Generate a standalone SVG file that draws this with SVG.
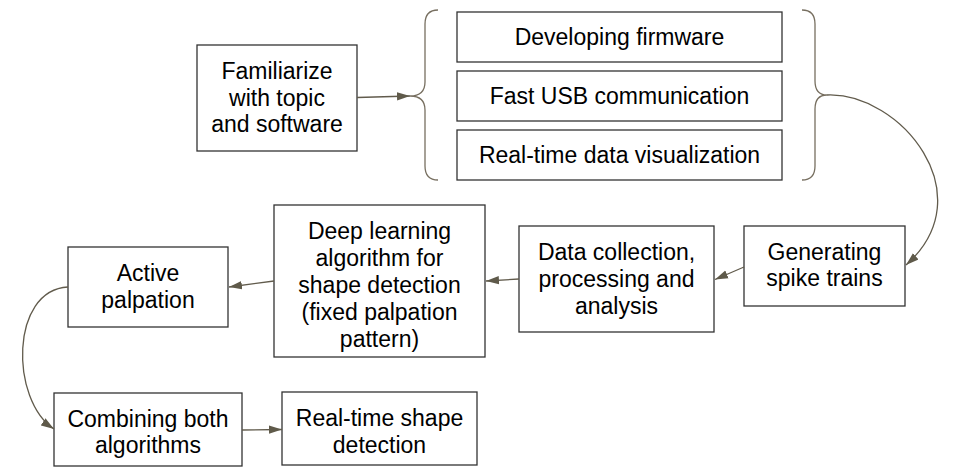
<svg xmlns="http://www.w3.org/2000/svg" width="962" height="475" viewBox="0 0 962 475">
<defs>
<marker id="ah" markerUnits="userSpaceOnUse" markerWidth="14" markerHeight="10" viewBox="0 0 14 10" refX="13" refY="5" orient="auto">
<path d="M0,0.8 L13,5 L0,9.2 Z" fill="#5f5a4a"/>
</marker>
<style>
.box{fill:#fff;stroke:#333;stroke-width:1.3}
.t{font-family:"Liberation Sans",Arial,sans-serif;font-size:23px;fill:#000;text-anchor:middle}
.c{fill:none;stroke:#615b4c;stroke-width:1.3}
.br{fill:none;stroke:#776f60;stroke-width:1.3}
</style>
</defs>
<rect width="962" height="475" fill="#fff"/>
<g id="brace-left"><path class="br" d="M438,10 Q425,10 425,24 L425,82 Q425,96 410,96 Q425,96 425,110 L425,166 Q425,180 438,180"/></g>
<g id="brace-right"><path class="br" d="M802,10 Q815,10 815,24 L815,81 Q815,95 827,95 Q815,95 815,109 L815,166 Q815,180 802,180"/></g>
<g id="familiarize"><rect class="box" x="197" y="45" width="160" height="106"/>
<text class="t" x="277" y="79">Familiarize</text><text class="t" x="277" y="105.5">with topic</text><text class="t" x="277" y="132">and software</text></g>
<g id="firmware"><rect class="box" x="457" y="12" width="325" height="50"/><text class="t" x="619.5" y="45">Developing firmware</text></g>
<g id="usb"><rect class="box" x="457" y="71" width="325" height="50"/><text class="t" x="619.5" y="104">Fast USB communication</text></g>
<g id="visualization"><rect class="box" x="457" y="130" width="325" height="50"/><text class="t" x="619.5" y="163">Real-time data visualization</text></g>
<g id="spike"><rect class="box" x="744" y="226" width="161" height="80"/>
<text class="t" x="824.5" y="259.5">Generating</text><text class="t" x="824.5" y="286">spike trains</text></g>
<g id="data"><rect class="box" x="519" y="226" width="195" height="106"/>
<text class="t" x="616.5" y="260">Data collection,</text><text class="t" x="616.5" y="287">processing and</text><text class="t" x="616.5" y="313.5">analysis</text></g>
<g id="deep"><rect class="box" x="274" y="205" width="211" height="152"/>
<text class="t" x="379.5" y="239">Deep learning</text><text class="t" x="379.5" y="266">algorithm for</text><text class="t" x="379.5" y="292.5">shape detection</text><text class="t" x="379.5" y="319.5">(fixed palpation</text><text class="t" x="379.5" y="346.5">pattern)</text></g>
<g id="active"><rect class="box" x="68" y="247" width="160" height="80"/>
<text class="t" x="148" y="281">Active</text><text class="t" x="148" y="307.5">palpation</text></g>
<g id="combining"><rect class="box" x="54" y="393" width="188" height="73"/>
<text class="t" x="148" y="427">Combining both</text><text class="t" x="148" y="453">algorithms</text></g>
<g id="realtime"><rect class="box" x="282" y="392" width="195" height="73"/>
<text class="t" x="379.5" y="426">Real-time shape</text><text class="t" x="379.5" y="452.5">detection</text></g>
<g id="connectors">
<path class="c" d="M357,97.5 L410,96" marker-end="url(#ah)"/>
<path class="c" d="M827,95 C900,92 985,195 906,265" marker-end="url(#ah)"/>
<path class="c" d="M744,267 L715,279.5" marker-end="url(#ah)"/>
<path class="c" d="M519,279 L486,281" marker-end="url(#ah)"/>
<path class="c" d="M274,281 L229,287" marker-end="url(#ah)"/>
<path class="c" d="M68,287 C10,290 10,400 54,429" marker-end="url(#ah)"/>
<path class="c" d="M242,430 L282,429.5" marker-end="url(#ah)"/>
</g>
</svg>
